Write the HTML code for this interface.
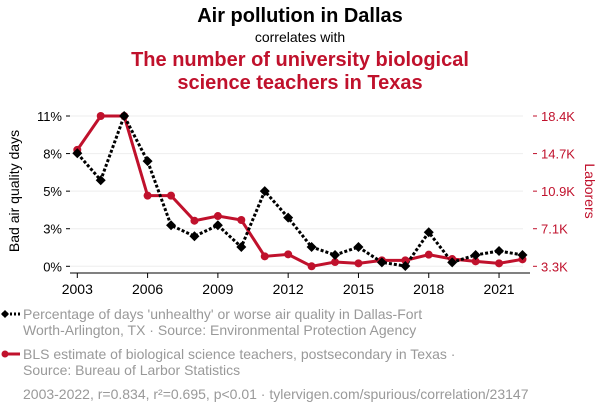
<!DOCTYPE html>
<html><head><meta charset="utf-8"><style>
body{margin:0;width:600px;height:414px;background:#fff;font-family:"Liberation Sans",sans-serif;overflow:hidden}
svg text{font-family:"Liberation Sans",sans-serif}
</style></head><body>
<svg id="c" width="600" height="414" xmlns="http://www.w3.org/2000/svg">
<text x="300" y="22" text-anchor="middle" font-size="20" font-weight="bold" fill="#000">Air pollution in Dallas</text>
<text x="300" y="42" text-anchor="middle" font-size="14" fill="#000">correlates with</text>
<text x="300" y="66" text-anchor="middle" font-size="20" font-weight="bold" fill="#c0112c">The number of university biological</text>
<text x="300" y="89" text-anchor="middle" font-size="20" font-weight="bold" fill="#c0112c">science teachers in Texas</text>
<g id="grid"></g><g id="axes"></g><g id="series"></g>
<text transform="translate(19,191) rotate(-90)" text-anchor="middle" font-size="14" fill="#000">Bad air quality days</text>
<text transform="translate(585,191) rotate(90)" text-anchor="middle" font-size="14" fill="#c0112c">Laborers</text>
<g>
<line x1="2" y1="314" x2="20" y2="314" stroke="#000" stroke-width="3" stroke-dasharray="2,2"/>
<path d="M1 314 l4 -4 l4 4 l-4 4z" fill="#000"/>
<text x="23" y="319" font-size="14" fill="#999">Percentage of days 'unhealthy' or worse air quality in Dallas-Fort</text>
<text x="23" y="335" font-size="14" fill="#999">Worth-Arlington, TX · Source: Environmental Protection Agency</text>
</g>
<g>
<line x1="3" y1="354" x2="20" y2="354" stroke="#c0112c" stroke-width="3"/>
<circle cx="5" cy="354" r="3.5" fill="#c0112c"/>
<text x="23" y="359" font-size="14" fill="#999">BLS estimate of biological science teachers, postsecondary in Texas ·</text>
<text x="23" y="375" font-size="14" fill="#999">Source: Bureau of Larbor Statistics</text>
</g>
<text x="23" y="399" font-size="14" fill="#999">2003-2022, r=0.834, r²=0.695, p&lt;0.01 · tylervigen.com/spurious/correlation/23147</text>
</svg>
<script>
const years=[2003,2004,2005,2006,2007,2008,2009,2010,2011,2012,2013,2014,2015,2016,2017,2018,2019,2020,2021,2022];
const airPct=[8.27,6.3,11.0,7.7,3.0,2.2,3.0,1.41,5.5,3.56,1.41,0.83,1.41,0.29,0.02,2.49,0.29,0.83,1.12,0.83];
const teachersK=[15.0,18.4,18.4,10.4,10.4,7.88,8.35,7.95,4.3,4.5,3.3,3.73,3.6,3.9,3.9,4.47,4.03,3.8,3.6,4.0];
const leftTicks=["0%","3%","5%","8%","11%"];
const rightTicks=["3.3K","7.1K","10.9K","14.7K","18.4K"];
const xTicks=[2003,2006,2009,2012,2015,2018,2021];
const NS="http://www.w3.org/2000/svg";
const X=y=>77.3+(y-2003)*23.43;
const YL=v=>266.3-(v/11)*150.3;
const YR=v=>266.3-((v-3.3)/15.1)*150.3;
function mk(t,a,p){const e=document.createElementNS(NS,t);for(const k in a)e.setAttribute(k,a[k]);p.appendChild(e);return e;}
const grid=document.getElementById('grid'),axes=document.getElementById('axes'),ser=document.getElementById('series');
for(let i=0;i<5;i++){const y=266.3-i*150.3/4;
const g=mk('line',{x1:70,x2:523,y1:y,y2:y,stroke:'#eee','stroke-width':1},grid);


mk('line',{x1:66,x2:70,y1:y,y2:y,stroke:'#000'},axes);
const t=mk('text',{x:62,y:y+5,'text-anchor':'end','font-size':13,fill:'#000'},axes);t.textContent=leftTicks[i];


mk('line',{x1:533,x2:537,y1:y,y2:y,stroke:'#c0112c'},axes);
const r=mk('text',{x:541,y:y+5,'font-size':13,fill:'#c0112c'},axes);r.textContent=rightTicks[i];

}
mk('line',{x1:70,x2:530,y1:273,y2:273,stroke:'#000'},axes);
xTicks.forEach(yr=>{mk('line',{x1:X(yr),x2:X(yr),y1:273,y2:278,stroke:'#000'},axes);
const t=mk('text',{x:X(yr),y:294,'text-anchor':'middle','font-size':14,fill:'#000'},axes);t.textContent=yr;

});
const rp=mk('polyline',{points:years.map((y,i)=>X(y)+','+YR(teachersK[i])).join(' '),fill:'none',stroke:'#c0112c','stroke-width':3},ser);


const bp=mk('polyline',{points:years.map((y,i)=>X(y)+','+YL(airPct[i])).join(' '),fill:'none',stroke:'#000','stroke-width':3,'stroke-dasharray':'3,2'},ser);


years.forEach((y,i)=>{const c=mk('circle',{cx:X(y),cy:YR(teachersK[i]),r:4,fill:'#c0112c'},ser);

});
years.forEach((y,i)=>{const x=X(y),yy=YL(airPct[i]);const d=mk('path',{d:`M${x-5} ${yy} L${x} ${yy-5} L${x+5} ${yy} L${x} ${yy+5}Z`,fill:'#000'},ser);

});
</script>
</body></html>
